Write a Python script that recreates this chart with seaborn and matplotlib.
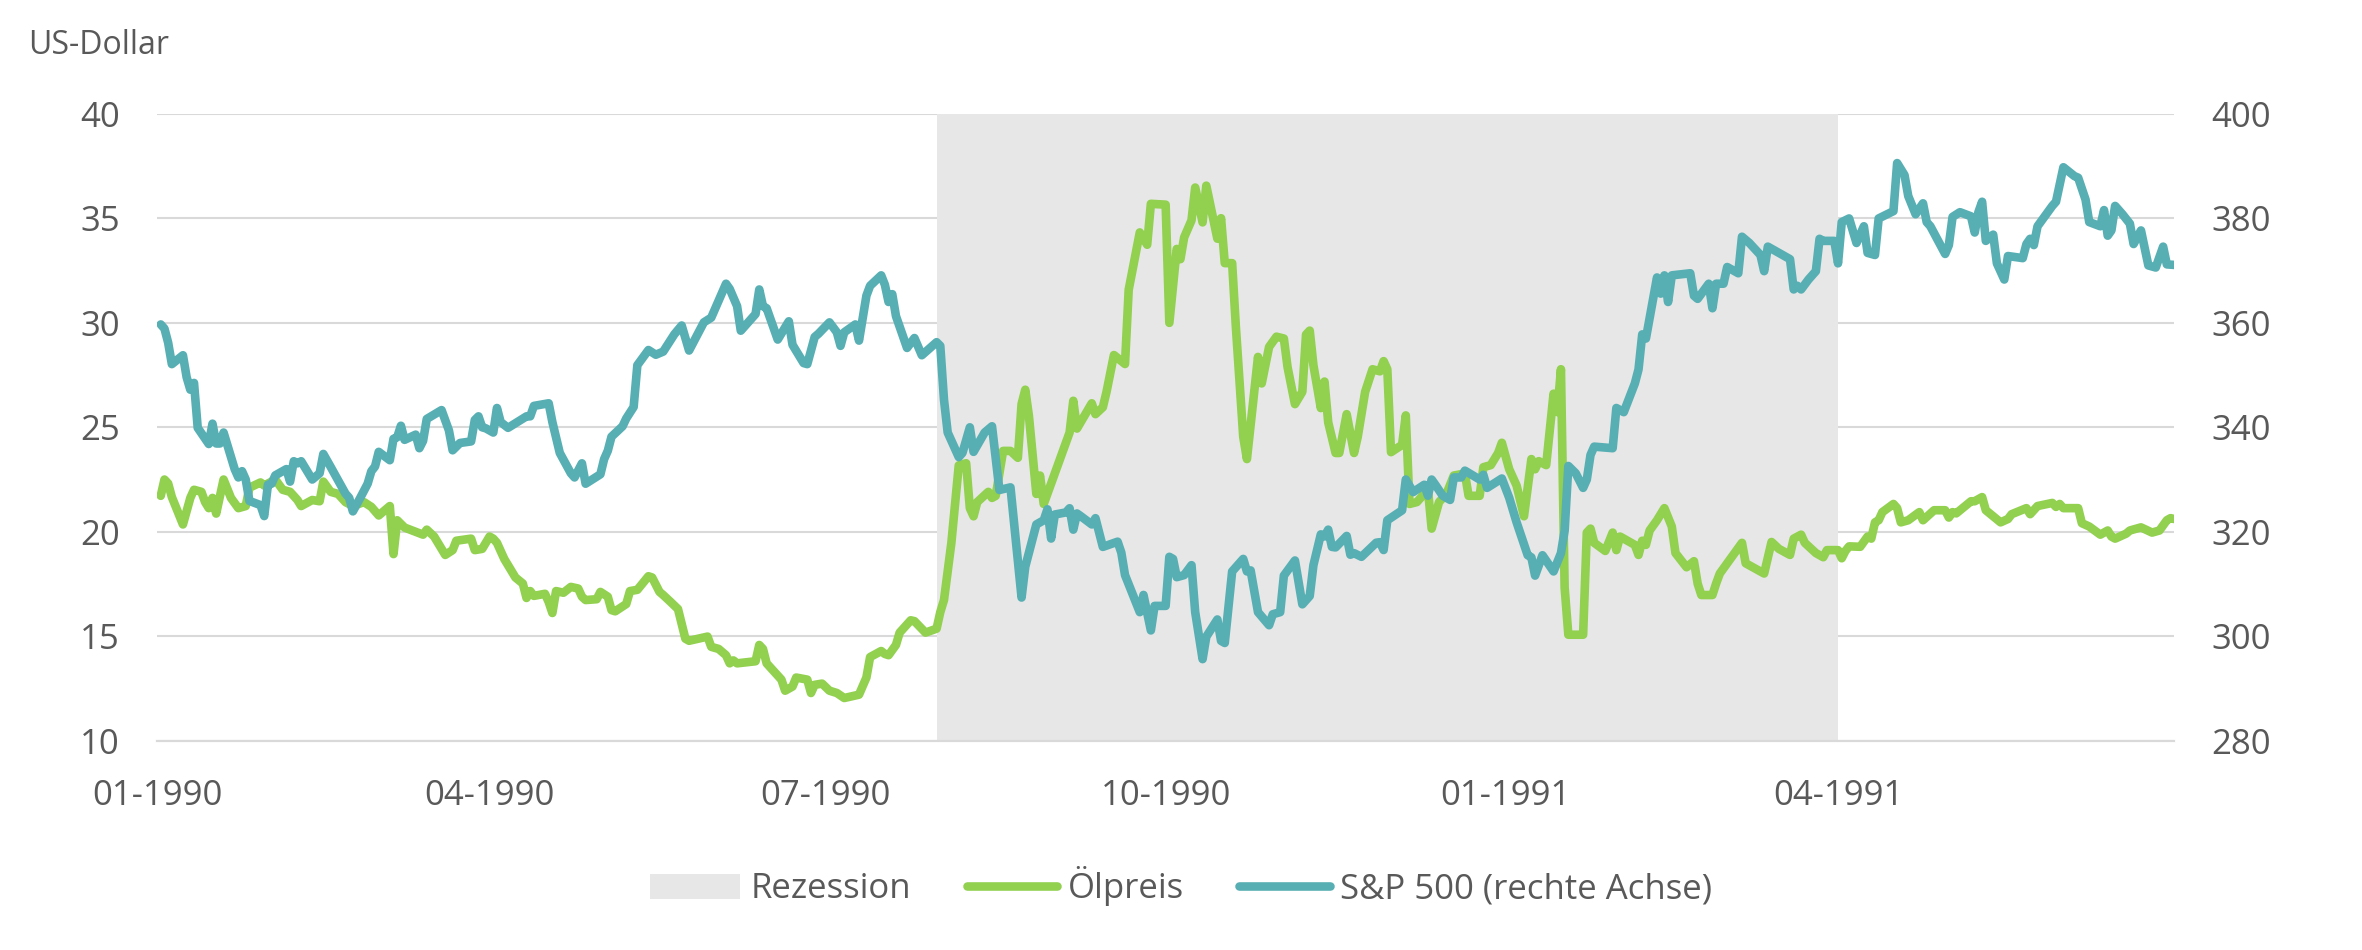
import pandas as pd
import matplotlib.pyplot as plt
from matplotlib.patches import Patch
from matplotlib.lines import Line2D
import seaborn as sns

# --- Daten ---
oel_daten = [
    '1990-01-02', '1990-01-03', '1990-01-04', '1990-01-05', '1990-01-08', '1990-01-10', '1990-01-11',
    '1990-01-13', '1990-01-14', '1990-01-15', '1990-01-16', '1990-01-17', '1990-01-19', '1990-01-21',
    '1990-01-23', '1990-01-25', '1990-01-26', '1990-01-29', '1990-01-30', '1990-02-02', '1990-02-04',
    '1990-02-06', '1990-02-08', '1990-02-09', '1990-02-12', '1990-02-14', '1990-02-15', '1990-02-17',
    '1990-02-19', '1990-02-21', '1990-02-23', '1990-02-26', '1990-02-28', '1990-03-02', '1990-03-05',
    '1990-03-06', '1990-03-07', '1990-03-09', '1990-03-14', '1990-03-15', '1990-03-17', '1990-03-20',
    '1990-03-22', '1990-03-23', '1990-03-27', '1990-03-28', '1990-03-30', '1990-04-01', '1990-04-02',
    '1990-04-03', '1990-04-05', '1990-04-08', '1990-04-10', '1990-04-11', '1990-04-12', '1990-04-13',
    '1990-04-16', '1990-04-17', '1990-04-18', '1990-04-19', '1990-04-21', '1990-04-23', '1990-04-25',
    '1990-04-26', '1990-04-27', '1990-04-30', '1990-05-01', '1990-05-03', '1990-05-04', '1990-05-05',
    '1990-05-08', '1990-05-09', '1990-05-11', '1990-05-14', '1990-05-15', '1990-05-17', '1990-05-18',
    '1990-05-20', '1990-05-22', '1990-05-24', '1990-05-25', '1990-05-30', '1990-05-31', '1990-06-02',
    '1990-06-04', '1990-06-05', '1990-06-06', '1990-06-07', '1990-06-12', '1990-06-13', '1990-06-14',
    '1990-06-15', '1990-06-19', '1990-06-20', '1990-06-22', '1990-06-23', '1990-06-26', '1990-06-27',
    '1990-06-28', '1990-06-30', '1990-07-02', '1990-07-04', '1990-07-06', '1990-07-10', '1990-07-12',
    '1990-07-13', '1990-07-16', '1990-07-17', '1990-07-18', '1990-07-20', '1990-07-21', '1990-07-24',
    '1990-07-25', '1990-07-28', '1990-07-31', '1990-08-01', '1990-08-02', '1990-08-04', '1990-08-06',
    '1990-08-08', '1990-08-09', '1990-08-10', '1990-08-11', '1990-08-14', '1990-08-15', '1990-08-16',
    '1990-08-18', '1990-08-20', '1990-08-22', '1990-08-23', '1990-08-24', '1990-08-25', '1990-08-27',
    '1990-08-28', '1990-08-29', '1990-09-05', '1990-09-06', '1990-09-07', '1990-09-11', '1990-09-12',
    '1990-09-14', '1990-09-15', '1990-09-17', '1990-09-20', '1990-09-21', '1990-09-24', '1990-09-26',
    '1990-09-27', '1990-10-01', '1990-10-02', '1990-10-04', '1990-10-05', '1990-10-06', '1990-10-08',
    '1990-10-09', '1990-10-11', '1990-10-12', '1990-10-15', '1990-10-16', '1990-10-17', '1990-10-19',
    '1990-10-20', '1990-10-22', '1990-10-23', '1990-10-26', '1990-10-27', '1990-10-29', '1990-10-31',
    '1990-11-02', '1990-11-03', '1990-11-05', '1990-11-07', '1990-11-08', '1990-11-09', '1990-11-10',
    '1990-11-12', '1990-11-13', '1990-11-14', '1990-11-16', '1990-11-17', '1990-11-19', '1990-11-21',
    '1990-11-22', '1990-11-24', '1990-11-26', '1990-11-28', '1990-11-29', '1990-11-30', '1990-12-01',
    '1990-12-04', '1990-12-05', '1990-12-06', '1990-12-08', '1990-12-11', '1990-12-12', '1990-12-14',
    '1990-12-16', '1990-12-18', '1990-12-21', '1990-12-22', '1990-12-25', '1990-12-26', '1990-12-28',
    '1990-12-30', '1990-12-31', '1991-01-02', '1991-01-04', '1991-01-06', '1991-01-08', '1991-01-09',
    '1991-01-10', '1991-01-12', '1991-01-14', '1991-01-15', '1991-01-16', '1991-01-17', '1991-01-18',
    '1991-01-22', '1991-01-23', '1991-01-24', '1991-01-25', '1991-01-28', '1991-01-30', '1991-01-31',
    '1991-02-01', '1991-02-05', '1991-02-06', '1991-02-07', '1991-02-08', '1991-02-09', '1991-02-11',
    '1991-02-13', '1991-02-15', '1991-02-16', '1991-02-19', '1991-02-21', '1991-02-22', '1991-02-23',
    '1991-02-26', '1991-02-27', '1991-02-28', '1991-03-02', '1991-03-06', '1991-03-07', '1991-03-12',
    '1991-03-14', '1991-03-16', '1991-03-19', '1991-03-20', '1991-03-22', '1991-03-23', '1991-03-26',
    '1991-03-28', '1991-03-29', '1991-04-01', '1991-04-02', '1991-04-03', '1991-04-04', '1991-04-07',
    '1991-04-09', '1991-04-10', '1991-04-11', '1991-04-12', '1991-04-13', '1991-04-16', '1991-04-17',
    '1991-04-18', '1991-04-20', '1991-04-23', '1991-04-24', '1991-04-27', '1991-04-30', '1991-05-01',
    '1991-05-02', '1991-05-03', '1991-05-07', '1991-05-08', '1991-05-10', '1991-05-11', '1991-05-15',
    '1991-05-17', '1991-05-18', '1991-05-22', '1991-05-23', '1991-05-25', '1991-05-29', '1991-05-30',
    '1991-05-31', '1991-06-01', '1991-06-05', '1991-06-06', '1991-06-08', '1991-06-11', '1991-06-13',
    '1991-06-14', '1991-06-15', '1991-06-18', '1991-06-19', '1991-06-22', '1991-06-25', '1991-06-27',
    '1991-06-29', '1991-06-30', '1991-07-01',
]
oel_preis = [
    21.72, 22.50, 22.31, 21.66, 20.35, 21.62, 22.01, 21.91, 21.42, 21.13, 21.62, 20.87, 22.50, 21.62,
    21.13, 21.23, 22.11, 22.36, 22.21, 22.50, 22.01, 21.91, 21.52, 21.23, 21.52, 21.46, 22.40, 21.91,
    21.81, 21.42, 21.23, 21.42, 21.19, 20.78, 21.23, 18.93, 20.55, 20.20, 19.86, 20.10, 19.77, 18.89,
    19.12, 19.57, 19.67, 19.12, 19.18, 19.77, 19.67, 19.47, 18.69, 17.81, 17.52, 16.83, 17.16, 16.93,
    17.03, 16.64, 16.11, 17.16, 17.08, 17.36, 17.28, 16.89, 16.73, 16.77, 17.12, 16.89, 16.25, 16.19,
    16.54, 17.16, 17.22, 17.87, 17.81, 17.12, 16.97, 16.64, 16.30, 14.88, 14.78, 14.98, 14.49, 14.39,
    14.09, 13.70, 13.84, 13.70, 13.80, 14.58, 14.39, 13.70, 12.92, 12.39, 12.59, 13.02, 12.92, 12.28,
    12.67, 12.73, 12.39, 12.28, 12.04, 12.20, 13.02, 14.00, 14.29, 14.15, 14.09, 14.58, 15.17, 15.76,
    15.72, 15.17, 15.36, 16.15, 16.73, 19.47, 23.18, 23.28, 21.13, 20.74, 21.42, 21.91, 21.62, 21.72,
    23.87, 23.87, 23.54, 26.11, 26.80, 25.53, 21.81, 22.69, 21.33, 24.75, 26.27, 24.94, 26.15, 25.63,
    25.96, 26.70, 28.46, 28.03, 31.59, 34.33, 33.74, 35.70, 35.66, 30.00, 33.54, 33.05, 34.09, 34.91,
    36.48, 34.81, 36.57, 34.03, 35.01, 32.86, 32.86, 29.83, 24.55, 23.48, 28.37, 27.10, 28.85, 29.34,
    29.25, 27.88, 26.11, 26.70, 29.44, 29.63, 27.97, 25.92, 27.19, 25.24, 23.77, 23.77, 25.63, 23.77,
    24.55, 26.70, 27.78, 27.68, 28.17, 27.78, 23.81, 24.16, 25.57, 21.33, 21.42, 22.01, 20.15, 21.42,
    21.81, 22.69, 22.79, 21.72, 21.72, 23.09, 23.19, 23.77, 24.26, 22.99, 22.21, 20.74, 23.48, 22.99,
    23.38, 23.19, 26.61, 25.73, 27.78, 17.32, 15.07, 15.07, 19.96, 20.15, 19.47, 19.08, 19.96, 19.12,
    19.77, 19.37, 18.89, 19.57, 19.37, 20.06, 20.55, 21.13, 20.25, 18.98, 18.30, 18.59, 17.52, 16.97,
    16.97, 17.52, 18.00, 18.49, 19.47, 18.49, 18.00, 19.51, 19.18, 18.89, 19.67, 19.86, 19.47, 18.98,
    18.78, 19.12, 19.12, 18.73, 19.08, 19.30, 19.28, 19.77, 19.67, 20.45, 20.55, 20.94, 21.33, 21.13,
    20.45, 20.55, 20.94, 20.55, 21.03, 21.03, 20.68, 20.94, 20.88, 21.46, 21.46, 21.66, 21.03, 20.45,
    20.61, 20.84, 21.13, 20.84, 21.23, 21.38, 21.19, 21.33, 21.13, 21.13, 20.41, 20.25, 19.86, 20.06,
    19.77, 19.67, 19.91, 20.06, 20.21, 19.96, 20.06, 20.55, 20.65, 20.61,
]

sp_daten = [
    '1990-01-02', '1990-01-03', '1990-01-04', '1990-01-05', '1990-01-08', '1990-01-09', '1990-01-10',
    '1990-01-11', '1990-01-12', '1990-01-15', '1990-01-16', '1990-01-17', '1990-01-18', '1990-01-19',
    '1990-01-22', '1990-01-23', '1990-01-24', '1990-01-25', '1990-01-26', '1990-01-29', '1990-01-30',
    '1990-01-31', '1990-02-01', '1990-02-02', '1990-02-05', '1990-02-06', '1990-02-07', '1990-02-08',
    '1990-02-09', '1990-02-12', '1990-02-14', '1990-02-15', '1990-02-17', '1990-02-21', '1990-02-22',
    '1990-02-23', '1990-02-25', '1990-02-27', '1990-02-28', '1990-03-01', '1990-03-02', '1990-03-05',
    '1990-03-06', '1990-03-07', '1990-03-08', '1990-03-09', '1990-03-12', '1990-03-13', '1990-03-14',
    '1990-03-15', '1990-03-19', '1990-03-21', '1990-03-22', '1990-03-24', '1990-03-27', '1990-03-28',
    '1990-03-29', '1990-03-30', '1990-03-31', '1990-04-02', '1990-04-03', '1990-04-04', '1990-04-06',
    '1990-04-11', '1990-04-12', '1990-04-13', '1990-04-17', '1990-04-18', '1990-04-20', '1990-04-23',
    '1990-04-24', '1990-04-26', '1990-04-27', '1990-05-01', '1990-05-02', '1990-05-03', '1990-05-04',
    '1990-05-07', '1990-05-08', '1990-05-10', '1990-05-11', '1990-05-14', '1990-05-16', '1990-05-18',
    '1990-05-21', '1990-05-23', '1990-05-25', '1990-05-29', '1990-05-31', '1990-06-04', '1990-06-05',
    '1990-06-07', '1990-06-08', '1990-06-12', '1990-06-13', '1990-06-14', '1990-06-15', '1990-06-18',
    '1990-06-21', '1990-06-22', '1990-06-25', '1990-06-26', '1990-06-28', '1990-06-29', '1990-07-02',
    '1990-07-04', '1990-07-05', '1990-07-06', '1990-07-09', '1990-07-10', '1990-07-12', '1990-07-13',
    '1990-07-16', '1990-07-17', '1990-07-18', '1990-07-19', '1990-07-20', '1990-07-23', '1990-07-25',
    '1990-07-27', '1990-07-31', '1990-08-01', '1990-08-02', '1990-08-03', '1990-08-06', '1990-08-07',
    '1990-08-09', '1990-08-10', '1990-08-13', '1990-08-15', '1990-08-17', '1990-08-20', '1990-08-23',
    '1990-08-24', '1990-08-27', '1990-08-29', '1990-08-30', '1990-08-31', '1990-09-01', '1990-09-04',
    '1990-09-05', '1990-09-06', '1990-09-07', '1990-09-08', '1990-09-11', '1990-09-12', '1990-09-14',
    '1990-09-18', '1990-09-19', '1990-09-20', '1990-09-24', '1990-09-25', '1990-09-27', '1990-09-28',
    '1990-10-01', '1990-10-02', '1990-10-03', '1990-10-04', '1990-10-06', '1990-10-08', '1990-10-09',
    '1990-10-11', '1990-10-12', '1990-10-15', '1990-10-16', '1990-10-17', '1990-10-19', '1990-10-22',
    '1990-10-23', '1990-10-24', '1990-10-26', '1990-10-29', '1990-10-30', '1990-11-01', '1990-11-02',
    '1990-11-05', '1990-11-07', '1990-11-09', '1990-11-10', '1990-11-12', '1990-11-13', '1990-11-14',
    '1990-11-15', '1990-11-16', '1990-11-19', '1990-11-20', '1990-11-21', '1990-11-23', '1990-11-27',
    '1990-11-28', '1990-11-29', '1990-11-30', '1990-12-04', '1990-12-05', '1990-12-07', '1990-12-10',
    '1990-12-11', '1990-12-12', '1990-12-13', '1990-12-15', '1990-12-17', '1990-12-18', '1990-12-20',
    '1990-12-21', '1990-12-25', '1990-12-26', '1990-12-27', '1990-12-31', '1991-01-02', '1991-01-04',
    '1991-01-07', '1991-01-08', '1991-01-09', '1991-01-11', '1991-01-14', '1991-01-16', '1991-01-17',
    '1991-01-18', '1991-01-20', '1991-01-22', '1991-01-23', '1991-01-24', '1991-01-25', '1991-01-30',
    '1991-01-31', '1991-02-02', '1991-02-05', '1991-02-06', '1991-02-07', '1991-02-08', '1991-02-11',
    '1991-02-12', '1991-02-13', '1991-02-14', '1991-02-15', '1991-02-20', '1991-02-21', '1991-02-22',
    '1991-02-25', '1991-02-26', '1991-02-27', '1991-03-01', '1991-03-02', '1991-03-05', '1991-03-06',
    '1991-03-08', '1991-03-11', '1991-03-12', '1991-03-13', '1991-03-16', '1991-03-19', '1991-03-20',
    '1991-03-21', '1991-03-22', '1991-03-24', '1991-03-26', '1991-03-27', '1991-03-28', '1991-03-31',
    '1991-04-01', '1991-04-02', '1991-04-04', '1991-04-06', '1991-04-08', '1991-04-09', '1991-04-11',
    '1991-04-12', '1991-04-16', '1991-04-17', '1991-04-19', '1991-04-20', '1991-04-22', '1991-04-24',
    '1991-04-25', '1991-04-26', '1991-04-30', '1991-05-01', '1991-05-02', '1991-05-04', '1991-05-07',
    '1991-05-08', '1991-05-09', '1991-05-10', '1991-05-11', '1991-05-13', '1991-05-14', '1991-05-16',
    '1991-05-17', '1991-05-21', '1991-05-22', '1991-05-23', '1991-05-24', '1991-05-25', '1991-05-29',
    '1991-05-30', '1991-06-01', '1991-06-04', '1991-06-05', '1991-06-07', '1991-06-08', '1991-06-11',
    '1991-06-12', '1991-06-13', '1991-06-14', '1991-06-15', '1991-06-17', '1991-06-19', '1991-06-20',
    '1991-06-22', '1991-06-24', '1991-06-26', '1991-06-28', '1991-06-29', '1991-07-01',
]
sp_kurs = [
    359.7, 358.9, 356.2, 352.1, 353.8, 349.6, 347.2, 348.5, 339.9, 336.8, 340.7, 336.9, 336.9, 339.0,
    332.0, 330.4, 331.6, 330.0, 325.9, 325.1, 323.0, 329.0, 329.2, 330.8, 332.0, 329.6, 333.5, 333.1,
    333.5, 330.0, 331.2, 334.9, 332.4, 327.3, 326.5, 323.9, 326.5, 329.2, 331.6, 332.5, 335.3, 333.7,
    337.8, 338.1, 340.3, 337.6, 338.6, 336.0, 337.4, 341.6, 343.3, 339.4, 335.6, 337.0, 337.3, 341.4,
    342.1, 340.0, 339.8, 339.0, 343.7, 341.0, 339.9, 342.1, 342.1, 344.1, 344.6, 341.0, 335.1, 331.2,
    330.4, 333.1, 329.2, 331.0, 333.9, 335.5, 338.2, 340.2, 341.7, 343.9, 351.9, 354.8, 353.9, 354.5,
    357.8, 359.5, 354.7, 360.1, 361.0, 367.5, 366.5, 363.2, 358.5, 361.7, 366.4, 363.2, 362.8, 356.8,
    360.3, 355.8, 352.3, 352.1, 357.3, 357.9, 360.1, 358.2, 355.6, 358.2, 359.7, 356.6, 365.2, 367.1,
    369.1, 367.3, 364.0, 365.5, 361.3, 355.2, 357.1, 353.8, 356.3, 355.6, 345.3, 339.0, 334.3, 335.1,
    340.0, 335.3, 339.0, 340.2, 328.0, 328.5, 307.4, 313.3, 321.4, 322.2, 324.3, 318.7, 323.3, 323.7,
    324.5, 320.4, 323.5, 323.0, 321.4, 322.6, 317.1, 318.1, 316.0, 311.7, 304.6, 307.9, 301.1, 305.8,
    305.8, 315.2, 314.8, 311.3, 311.7, 313.6, 304.6, 295.6, 299.9, 303.2, 299.1, 298.7, 312.4, 314.8,
    312.4, 312.6, 304.6, 302.1, 304.2, 304.6, 311.6, 314.5, 306.1, 307.7, 313.6, 319.5, 319.1, 320.4,
    317.1, 317.0, 319.2, 315.6, 315.9, 315.2, 317.9, 318.0, 316.5, 322.2, 324.1, 330.0, 327.6, 329.0,
    326.9, 330.0, 329.0, 326.9, 326.1, 330.4, 330.4, 331.7, 330.0, 330.9, 328.4, 330.2, 326.5, 321.8,
    315.5, 315.1, 311.6, 315.5, 312.4, 315.9, 320.2, 332.6, 331.2, 328.4, 330.0, 334.7, 336.3, 336.0,
    343.7, 342.9, 348.4, 351.1, 357.8, 357.0, 368.7, 365.6, 369.1, 364.0, 369.1, 369.5, 365.2, 364.6,
    367.5, 362.8, 367.5, 367.5, 370.7, 369.5, 376.5, 375.3, 373.0, 369.9, 374.6, 373.4, 372.2, 366.4,
    367.1, 366.4, 368.3, 369.9, 376.1, 375.7, 375.7, 371.4, 379.3, 380.0, 375.3, 378.5, 373.4, 373.0,
    380.0, 381.4, 390.6, 388.3, 384.3, 380.8, 382.9, 379.3, 378.5, 373.2, 374.9, 380.3, 381.2, 380.4,
    377.3, 381.2, 383.2, 375.7, 376.9, 371.4, 368.3, 372.8, 372.4, 375.1, 376.1, 374.9, 378.5, 382.4,
    383.2, 389.8, 388.1, 387.8, 383.6, 379.3, 378.5, 381.6, 376.7, 377.7, 382.4, 380.8, 379.0, 375.1,
    377.7, 371.0, 370.6, 374.6, 371.2, 371.1,
]

rezession = ['1990-07-31', '1991-04-01']
x_ticks = ['1990-01-01', '1990-04-01', '1990-07-01', '1990-10-01', '1991-01-01', '1991-04-01', '1991-07-01']
x_tick_labels = ['01-1990', '04-1990', '07-1990', '10-1990', '01-1991', '04-1991', '']
links_ticks = [10, 15, 20, 25, 30, 35, 40]
rechts_ticks = [280, 300, 320, 340, 360, 380, 400]
legenden_text = ['Rezession', 'Ölpreis', 'S&P 500 (rechte Achse)']

GRUEN = '#92D050'
TUERKIS = '#58AFB3'
FLAECHE = '#E7E7E7'
GRID = '#D9D9D9'
TEXT = '#595959'
LW = 6.2
FS = 25      # Achsenbeschriftung und Legende
FS_EINHEIT = 23

sns.set_theme(style='white')
plt.rcParams['font.family'] = ['Open Sans', 'DejaVu Sans']

df_oel = pd.DataFrame({'datum': pd.to_datetime(oel_daten), 'wert': oel_preis})
df_sp = pd.DataFrame({'datum': pd.to_datetime(sp_daten), 'wert': sp_kurs})

fig = plt.figure(figsize=(23.62, 9.5), dpi=100)
ax = fig.add_axes([0.0665, 0.2204, 0.854, 0.6596])
ax2 = ax.twinx()

# Rezession als graue Flaeche (ueber dem Gitter, unter den Linien)
ax.axvspan(pd.Timestamp(rezession[0]), pd.Timestamp(rezession[1]), color=FLAECHE, lw=0, zorder=1)

sns.lineplot(data=df_oel, x='datum', y='wert', ax=ax, color=GRUEN, lw=LW, estimator=None,
             sort=False, legend=False, zorder=3, solid_capstyle='round', solid_joinstyle='round')
sns.lineplot(data=df_sp, x='datum', y='wert', ax=ax2, color=TUERKIS, lw=LW, estimator=None,
             sort=False, legend=False, zorder=3, solid_capstyle='round', solid_joinstyle='round')

ax.set_xlim(pd.Timestamp(x_ticks[0]), pd.Timestamp(x_ticks[-1]))
ax.set_ylim(links_ticks[0], links_ticks[-1])
ax2.set_ylim(rechts_ticks[0], rechts_ticks[-1])
ax.set_yticks(links_ticks)
ax2.set_yticks(rechts_ticks)
ax.set_xticks(pd.to_datetime(x_ticks))
ax.set_xticklabels(x_tick_labels)

ax.set_axisbelow(True)
ax.yaxis.grid(True, color=GRID, lw=1.5, zorder=0)
ax.xaxis.grid(False)
ax2.grid(False)

for a in (ax, ax2):
    a.set_xlabel('')
    a.set_ylabel('')
    for side in ('top', 'left', 'right'):
        a.spines[side].set_visible(False)
    a.spines['bottom'].set_color(GRID)
    a.spines['bottom'].set_linewidth(1.5)

ax.tick_params(axis='x', length=8.6, width=1.5, color=GRID, pad=19, labelsize=FS, labelcolor=TEXT)
ax.tick_params(axis='y', length=0, pad=27, labelsize=FS, labelcolor=TEXT)
ax2.tick_params(axis='y', length=0, pad=27, labelsize=FS, labelcolor=TEXT)

fig.text(28 / 2362, 1 - 45 / 950, 'US-Dollar', fontsize=FS_EINHEIT, color=TEXT, ha='left', va='center')

handles = [Patch(facecolor=FLAECHE, edgecolor='none'),
           Line2D([], [], color=GRUEN, lw=LW),
           Line2D([], [], color=TUERKIS, lw=LW)]
fig.legend(handles, legenden_text, loc='center', bbox_to_anchor=(0.5, 0.067), ncol=3,
           frameon=False, fontsize=FS, labelcolor=TEXT, handlelength=2.6, handleheight=0.75,
           handletextpad=0.3, columnspacing=1.6)

fig.savefig('out.png', dpi=100)
